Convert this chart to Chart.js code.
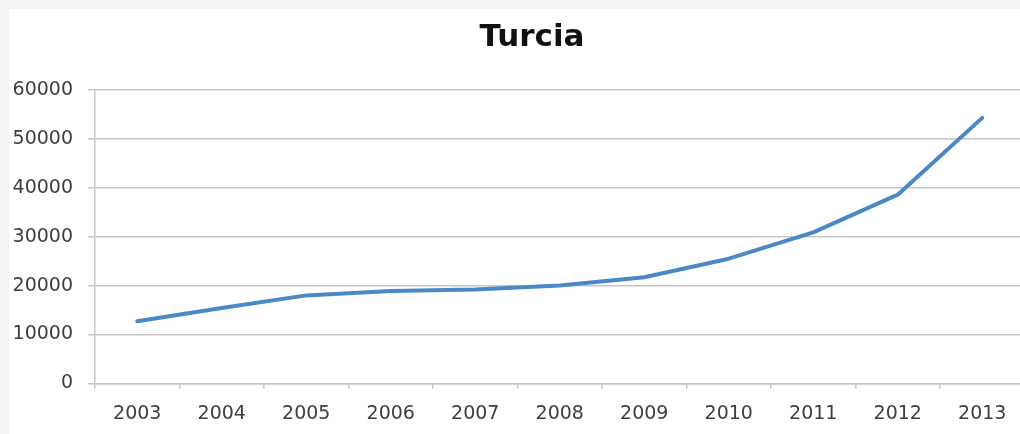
<!DOCTYPE html>
<html>
<head>
<meta charset="utf-8">
<script src="https://cdn.jsdelivr.net/npm/chart.js@4/dist/chart.umd.min.js"></script>
<style>
  html, body { margin: 0; padding: 0; overflow: hidden; background: #f3f3f2; width: 1020px; height: 434px; }
  #sheet { position: absolute; left: 9px; top: 9px; right: 0; bottom: 0; background: #ffffff; }
  #chart { position: absolute; left: 0; top: 0; }
</style>
</head>
<body>
<div id="sheet"></div>
<canvas id="chart" width="1064" height="449"></canvas>
<script>
// Yearly values for Turkey (Turcia), 2003–2013
const years = ['2003', '2004', '2005', '2006', '2007', '2008', '2009', '2010', '2011', '2012', '2013'];
const values = [12700, 15400, 18000, 18900, 19200, 20000, 21700, 25500, 30900, 38600, 54300];
const yTicks = [0, 10000, 20000, 30000, 40000, 50000, 60000];

const gridGrey = '#c6c6c6';
const labelGrey = '#3e3e3e';
const fontFamily = "'DejaVu Sans', 'Liberation Sans', sans-serif";

// Let the y-axis labels use the whole left margin so wide numbers are not clipped
const widenYLabels = {
  id: 'widenYLabels',
  afterLayout(chart) {
    chart.scales.y.left = 0;
  }
};

new Chart(document.getElementById('chart'), {
  type: 'line',
  plugins: [widenYLabels],
  data: {
    labels: years,
    datasets: [{
      label: 'Turcia',
      data: values,
      borderColor: '#4a89c6',
      borderWidth: 4,
      pointRadius: 0,
      tension: 0,
      fill: false,
      borderCapStyle: 'round',
      borderJoinStyle: 'round'
    }]
  },
  options: {
    responsive: false,
    devicePixelRatio: 1,
    animation: false,
    layout: { padding: { left: 39.5, right: 39.5, top: 0, bottom: 8.6 } },
    plugins: {
      legend: { display: false },
      tooltip: { enabled: false },
      title: {
        display: true,
        text: 'Turcia',
        color: '#111111',
        font: { family: fontFamily, size: 31, weight: 'bold', lineHeight: 1.2 },
        padding: { top: 19, bottom: 33.8 }
      }
    },
    scales: {
      x: {
        offset: true,
        grid: {
          offset: true,
          drawOnChartArea: false,
          drawTicks: true,
          tickLength: 5,
          color: gridGrey,
          lineWidth: 1.5
        },
        border: { display: true, color: gridGrey, width: 1.5 },
        ticks: {
          color: labelGrey,
          font: { family: fontFamily, size: 19, lineHeight: 1.2 },
          padding: 14.6,
          maxRotation: 0,
          autoSkip: false
        }
      },
      y: {
        min: yTicks[0],
        max: yTicks[yTicks.length - 1],
        afterBuildTicks: (scale) => { scale.ticks = yTicks.map(v => ({ value: v })); },
        afterFit: (scale) => { scale.width = 95 - 39.5; },
        grid: {
          color: gridGrey,
          lineWidth: 1.5,
          drawTicks: true,
          tickLength: 7
        },
        border: { display: true, color: gridGrey, width: 1.5 },
        ticks: {
          color: labelGrey,
          font: { family: fontFamily, size: 19, lineHeight: 1.2 },
          padding: 15,
          callback: (v) => String(v)
        }
      }
    }
  }
});
</script>
</body>
</html>
